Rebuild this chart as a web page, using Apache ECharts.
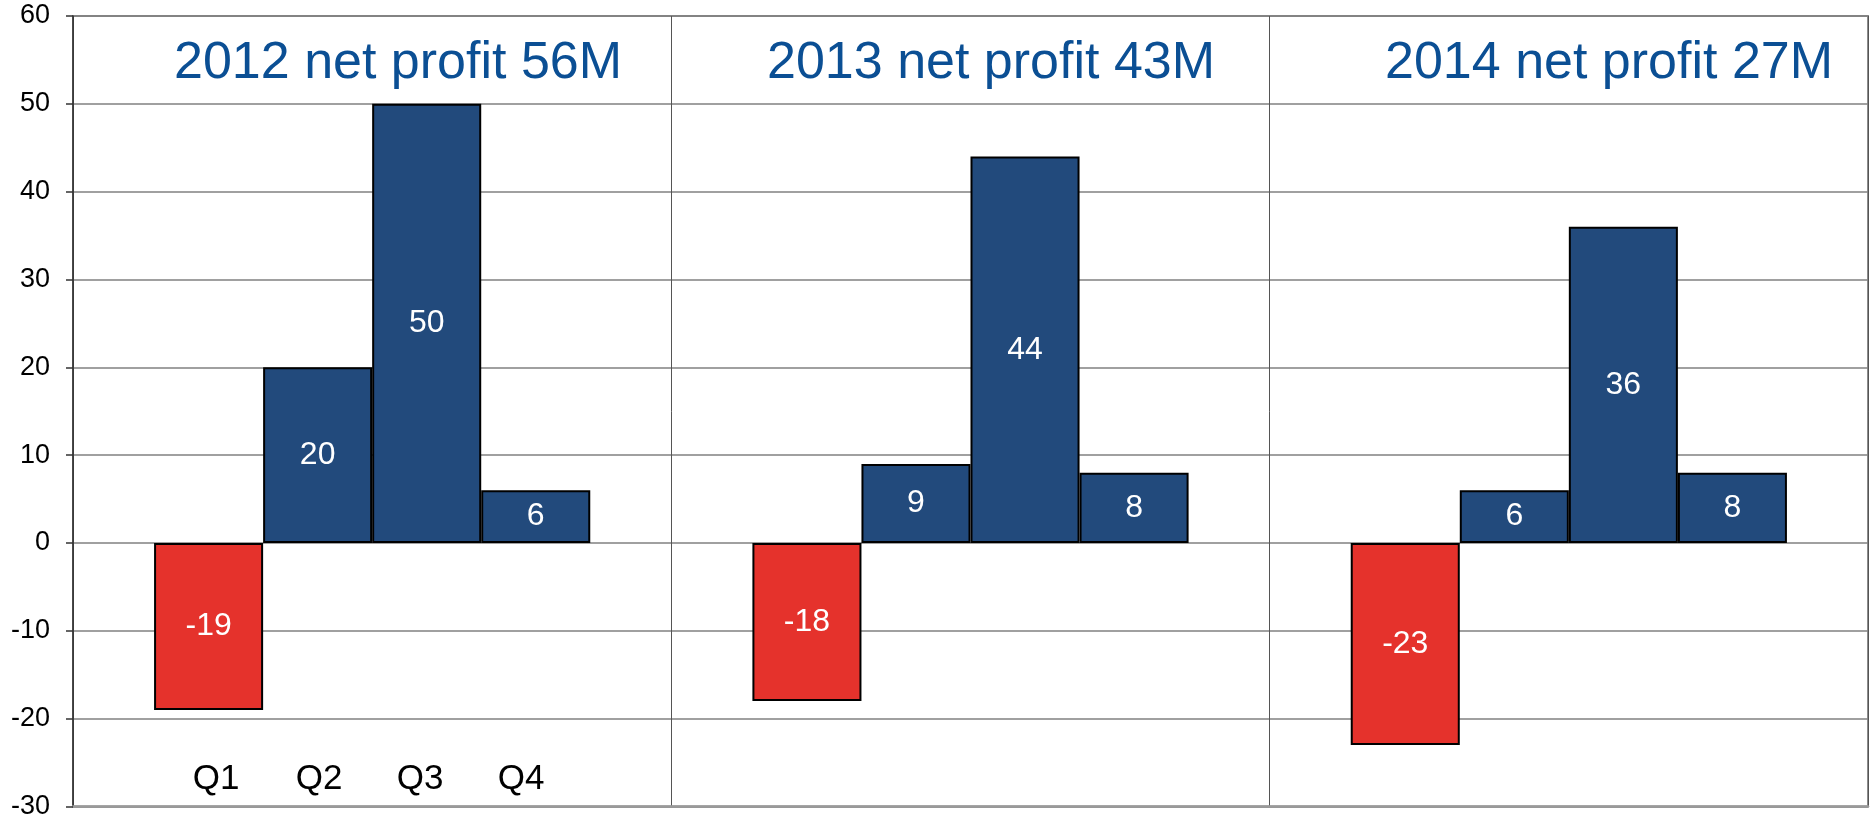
<!DOCTYPE html>
<html>
<head>
<meta charset="utf-8">
<script src="https://cdn.jsdelivr.net/npm/echarts@6/dist/echarts.min.js"></script>
<style>
html,body{margin:0;padding:0;background:#fff;}
#chart{width:1873px;height:820px;}
</style>
</head>
<body>
<div id="chart"></div>
<script>
// ---- data ----
var years = ['2012', '2013', '2014'];
var netProfit = [56, 43, 27];
var quarters = ['Q1', 'Q2', 'Q3', 'Q4'];
var q1 = [-19, -18, -23];
var q2 = [20, 9, 6];
var q3 = [50, 44, 36];
var q4 = [6, 8, 8];
var yTicks = [-30, -20, -10, 0, 10, 20, 30, 40, 50, 60];

var FONT = "'Liberation Sans', Arial, sans-serif";
var BLUE = '#224a7c';
var RED = '#e5322c';
var seriesData = [q1, q2, q3, q4];
var seriesColors = [RED, BLUE, BLUE, BLUE];

var chart = echarts.init(document.getElementById('chart'), null, {renderer: 'canvas'});

var titleLefts = [174, 767, 1385];
var titles = years.map(function (y, i) {
  return {
    text: y + ' net profit ' + netProfit[i] + 'M',
    left: titleLefts[i],
    top: 38,
    padding: 0,
    textStyle: {fontFamily: FONT, fontSize: 52, fontWeight: 'normal', color: '#0b4f94'}
  };
});

var qLabelX = [216, 319, 420, 521];
var graphics = quarters.map(function (q, i) {
  return {
    type: 'text',
    x: qLabelX[i],
    y: 779,
    style: {text: q, font: '35px ' + FONT, fill: '#000', align: 'center', verticalAlign: 'middle'}
  };
});

var series = quarters.map(function (q, i) {
  return {
    name: q,
    type: 'bar',
    data: seriesData[i],
    barGap: '0%',
    barCategoryGap: '27.1%',
    itemStyle: {color: seriesColors[i], borderColor: '#000', borderWidth: 2},
    label: {show: true, position: 'inside', color: '#fff', fontFamily: FONT, fontSize: 32},
    emphasis: {disabled: true},
    z: 3
  };
});

chart.setOption({
  animation: false,
  backgroundColor: '#fff',
  title: titles,
  graphic: graphics,
  grid: {
    left: 73, right: 5, top: 16, bottom: 11,
    show: true, borderColor: '#8c8c8c', borderWidth: 2, backgroundColor: 'transparent'
  },
  xAxis: {
    type: 'category',
    data: years,
    position: 'bottom',
    axisLine: {show: true, onZero: false, lineStyle: {color: '#9a9a9a', width: 2.5}},
    axisTick: {show: false},
    axisLabel: {show: false},
    splitLine: {show: true, lineStyle: {color: '#555', width: 1}}
  },
  yAxis: {
    type: 'value',
    min: yTicks[0],
    max: yTicks[yTicks.length - 1],
    interval: 10,
    axisLine: {show: true, lineStyle: {color: '#333', width: 1.5}},
    axisTick: {show: true, length: 7, lineStyle: {color: '#333', width: 1.5}},
    axisLabel: {color: '#000', fontFamily: FONT, fontSize: 27, margin: 23},
    splitLine: {show: true, lineStyle: {color: '#808080', width: 1.5}}
  },
  series: series
});
</script>
</body>
</html>
